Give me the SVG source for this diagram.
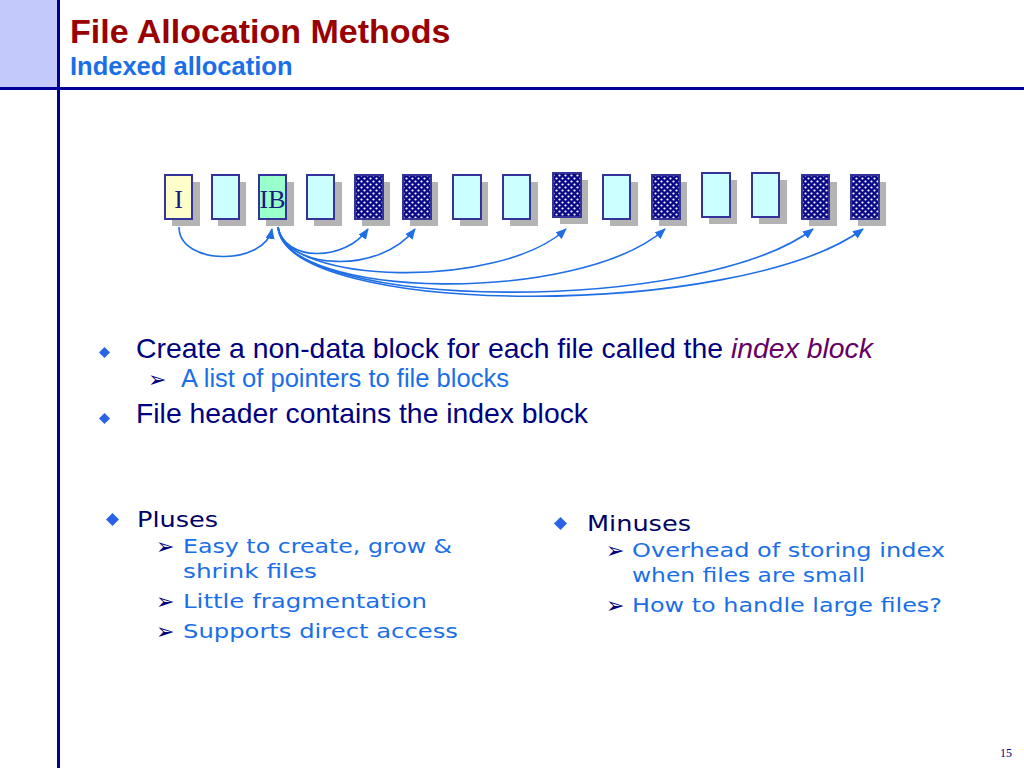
<svg xmlns="http://www.w3.org/2000/svg" width="1024" height="768" viewBox="0 0 1024 768">
<style>
.blk{stroke:#333399;stroke-width:2}
.sh{fill:#b3b3b3}
.plain{fill:#ccffff}
.dense{fill:url(#dots)}
.lbl{font-family:"Liberation Serif","Times New Roman",serif;font-size:26px;fill:#1a1a80}
.conn{fill:none;stroke:#1e6ee6;stroke-width:1.6}
.main{font-family:"Liberation Sans",Arial,sans-serif;font-size:28px;fill:#000080}
.sub{font-family:"Liberation Sans",Arial,sans-serif;font-size:25px;fill:#1a6fe8}
.cmain{font-family:"DejaVu Sans",sans-serif;font-size:22px;fill:#000066}
.csub{font-family:"DejaVu Sans",sans-serif;font-size:20px;fill:#1a6fe8}
.arr{font-family:"DejaVu Sans",sans-serif;font-size:22px;fill:#000080}
</style>
<defs>
<pattern id="dots" width="6" height="6" patternUnits="userSpaceOnUse">
<rect width="6" height="6" fill="#0a0a88"/>
<circle cx="1.5" cy="1.5" r="1.1" fill="#ffffff"/>
<circle cx="4.5" cy="4.5" r="1.1" fill="#ffffff"/>
</pattern>
<marker id="ah" markerUnits="userSpaceOnUse" markerWidth="11" markerHeight="9" refX="10" refY="4.5" orient="auto">
<path d="M0,0 L11,4.5 L0,9 z" fill="#1e6ee6"/>
</marker>
<symbol id="dia" viewBox="-6 -6 12 12" overflow="visible">
<path d="M0,-6 L6,0 L0,6 L-6,0 z" fill="#2a63e8"/>
</symbol>
</defs>
<rect width="1024" height="768" fill="#ffffff"/>
<g id="header">
<rect x="0" y="0" width="58" height="88" fill="#c3c9fb"/>
<line x1="58.5" y1="0" x2="58.5" y2="768" stroke="#000099" stroke-width="3"/>
<line x1="0" y1="88.5" x2="1024" y2="88.5" stroke="#000099" stroke-width="3"/>
<text x="70" y="43" font-family="Liberation Sans,Arial,sans-serif" font-size="34" font-weight="bold" fill="#990000">File Allocation Methods</text>
<text x="70" y="75" font-family="Liberation Sans,Arial,sans-serif" font-size="25.5" font-weight="bold" fill="#1a6fe8">Indexed allocation</text>
</g>
<g id="block-I"><rect class="sh" x="172" y="182" width="28" height="44"/><rect class="blk" x="165" y="175" width="27" height="44" fill="#ffffcc"/><text class="lbl" x="178.5" y="208" text-anchor="middle">I</text></g>
<g id="block-2"><rect class="sh" x="218" y="182" width="28" height="44"/><rect class="blk plain" x="212" y="175" width="27" height="44"/></g>
<g id="block-IB"><rect class="sh" x="266" y="182" width="28" height="44"/><rect class="blk" x="259" y="175" width="27" height="44" fill="#99ffcc"/><text class="lbl" x="272.5" y="208" text-anchor="middle">IB</text></g>
<g id="block-4"><rect class="sh" x="314" y="182" width="28" height="44"/><rect class="blk plain" x="307" y="175" width="27" height="44"/></g>
<g id="block-5"><rect class="sh" x="362" y="182" width="28" height="44"/><rect class="blk dense" x="355" y="175" width="28" height="44"/></g>
<g id="block-6"><rect class="sh" x="410" y="182" width="28" height="44"/><rect class="blk dense" x="403" y="175" width="28" height="44"/></g>
<g id="block-7"><rect class="sh" x="460" y="182" width="28" height="44"/><rect class="blk plain" x="453" y="175" width="28" height="44"/></g>
<g id="block-8"><rect class="sh" x="510" y="182" width="28" height="44"/><rect class="blk plain" x="503" y="175" width="27" height="44"/></g>
<g id="block-9"><rect class="sh" x="560" y="180" width="28" height="44"/><rect class="blk dense" x="553" y="173" width="28" height="44"/></g>
<g id="block-10"><rect class="sh" x="610" y="182" width="28" height="44"/><rect class="blk plain" x="603" y="175" width="27" height="44"/></g>
<g id="block-11"><rect class="sh" x="659" y="182" width="28" height="44"/><rect class="blk dense" x="652" y="175" width="28" height="44"/></g>
<g id="block-12"><rect class="sh" x="709" y="180" width="28" height="44"/><rect class="blk plain" x="702" y="173" width="28" height="44"/></g>
<g id="block-13"><rect class="sh" x="759" y="180" width="28" height="44"/><rect class="blk plain" x="752" y="173" width="27" height="44"/></g>
<g id="block-14"><rect class="sh" x="809" y="182" width="28" height="44"/><rect class="blk dense" x="802" y="175" width="27" height="44"/></g>
<g id="block-15"><rect class="sh" x="858" y="182" width="28" height="44"/><rect class="blk dense" x="851" y="175" width="28" height="44"/></g>
<g id="connectors">
<path class="conn" marker-end="url(#ah)" d="M179,227 C179,266 265,266 272,229"/>
<path class="conn" marker-end="url(#ah)" d="M278,227 C284,262 345,262 368,229"/>
<path class="conn" marker-end="url(#ah)" d="M278,227 C285,270 380,275 415,229"/>
<path class="conn" marker-end="url(#ah)" d="M278,227 C285,285 500,290 566,229"/>
<path class="conn" marker-end="url(#ah)" d="M278,227 C285,300 580,305 665,229"/>
<path class="conn" marker-end="url(#ah)" d="M278,227 C285,312 700,315 813,229"/>
<path class="conn" marker-end="url(#ah)" d="M278,227 C285,318 740,320 863,229"/>
</g>
<g id="bullets-top">
<use href="#dia" x="99" y="347" width="11" height="11"/>
<text class="main" x="136" y="358" textLength="737" lengthAdjust="spacingAndGlyphs">Create a non-data block for each file called the <tspan font-style="italic" fill="#660066">index block</tspan></text>
<text class="arr" x="148" y="387">➢</text>
<text class="sub" x="181" y="387" textLength="328" lengthAdjust="spacingAndGlyphs">A list of pointers to file blocks</text>
<use href="#dia" x="99" y="413" width="11" height="11"/>
<text class="main" x="136" y="423" textLength="452" lengthAdjust="spacingAndGlyphs">File header contains the index block</text>
</g>
<g id="pluses">
<use href="#dia" x="106" y="513" width="13" height="13"/>
<text class="cmain" x="137" y="527" textLength="81" lengthAdjust="spacingAndGlyphs">Pluses</text>
<text class="arr" x="156" y="554">➢</text>
<text class="csub" x="183" y="553" textLength="269" lengthAdjust="spacingAndGlyphs">Easy to create, grow &amp;</text>
<text class="csub" x="183" y="578" textLength="134" lengthAdjust="spacingAndGlyphs">shrink files</text>
<text class="arr" x="156" y="609">➢</text>
<text class="csub" x="183" y="608" textLength="244" lengthAdjust="spacingAndGlyphs">Little fragmentation</text>
<text class="arr" x="156" y="639">➢</text>
<text class="csub" x="183" y="638" textLength="275" lengthAdjust="spacingAndGlyphs">Supports direct access</text>
</g>
<g id="minuses">
<use href="#dia" x="554" y="517" width="13" height="13"/>
<text class="cmain" x="587" y="531" textLength="104" lengthAdjust="spacingAndGlyphs">Minuses</text>
<text class="arr" x="606" y="558">➢</text>
<text class="csub" x="632" y="557" textLength="313" lengthAdjust="spacingAndGlyphs">Overhead of storing index</text>
<text class="csub" x="632" y="582" textLength="233" lengthAdjust="spacingAndGlyphs">when files are small</text>
<text class="arr" x="606" y="613">➢</text>
<text class="csub" x="632" y="612" textLength="310" lengthAdjust="spacingAndGlyphs">How to handle large files?</text>
</g>
<text x="1000" y="757" font-family="Liberation Serif,Times New Roman,serif" font-size="12" fill="#000080">15</text>
</svg>
